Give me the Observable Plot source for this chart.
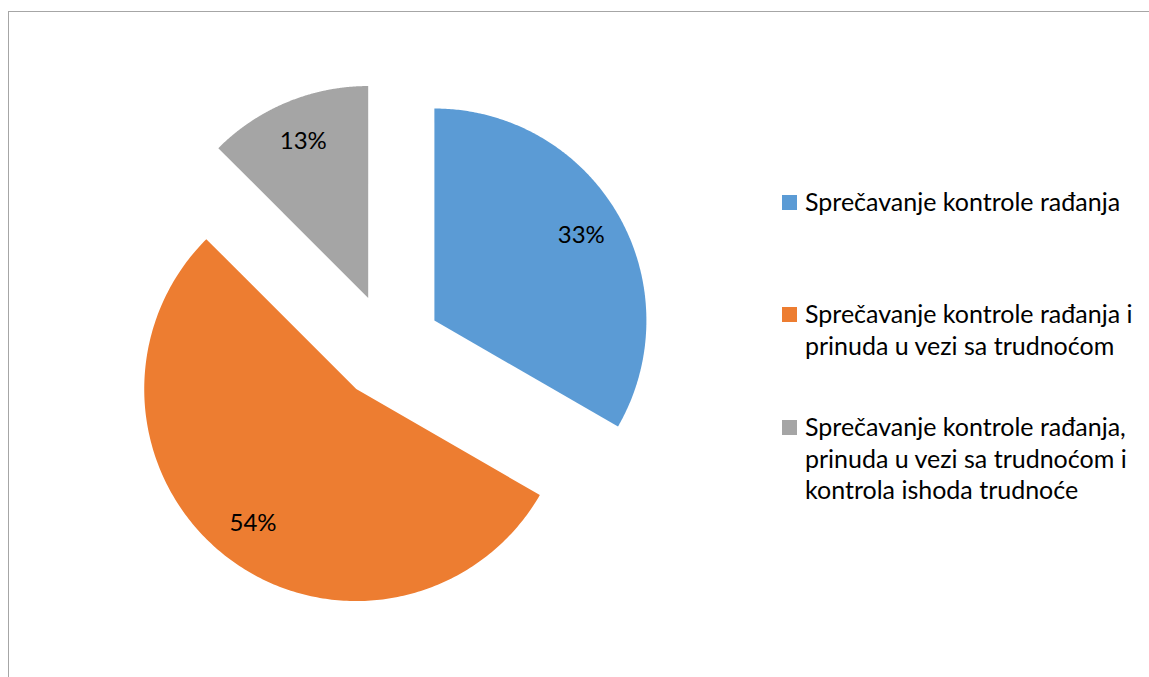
<!DOCTYPE html>
<html>
<head>
<meta charset="utf-8">
<script src="https://cdn.jsdelivr.net/npm/d3@7"></script>
<script src="https://cdn.jsdelivr.net/npm/@observablehq/plot@0.6"></script>
<style>
  html, body { margin: 0; padding: 0; background: #fff; }
  #wrap { position: relative; width: 1149px; height: 677px; overflow: hidden; font-family: "Lato", "Open Sans", sans-serif; }
  #border { position: absolute; left: 8px; top: 11px; width: 1200px; height: 700px; border-left: 1.5px solid #a6a6a6; border-top: 1.5px solid #a6a6a6; box-sizing: border-box; }
  #chart { position: absolute; left: 0; top: 0; }
  #legend { position: absolute; left: 782px; top: 0; width: 367px; }
  .item { position: absolute; left: 0; display: flex; align-items: flex-start; }
  .sw { width: 15px; height: 15px; margin-right: 8px; flex: none; }
  .lbl { font-size: 25px; line-height: 31.5px; color: #000; white-space: nowrap; }
</style>
</head>
<body>
<div id="wrap">
  <div id="border"></div>
  <div id="chart"></div>
  <div id="legend"></div>
</div>
<script>
// ---- data ----
const categories = [
  "Sprečavanje kontrole rađanja",
  "Sprečavanje kontrole rađanja i prinuda u vezi sa trudnoćom",
  "Sprečavanje kontrole rađanja, prinuda u vezi sa trudnoćom i kontrola ishoda trudnoće"
];
const legendLines = [
  ["Sprečavanje kontrole rađanja"],
  ["Sprečavanje kontrole rađanja i", "prinuda u vezi sa trudnoćom"],
  ["Sprečavanje kontrole rađanja,", "prinuda u vezi sa trudnoćom i", "kontrola ishoda trudnoće"]
];
const counts = [8, 13, 3];
const colors = ["#5b9bd5", "#ed7d31", "#a5a5a5"];

// ---- layout ----
const W = 1149, H = 677;
const cx = 388, cy = 346.5, R = 212;   // pie centre / radius in px
const explode = 0.25;                    // explosion as fraction of radius
const labelR = 0.80;

const total = d3.sum(counts);
const arcs = d3.pie().sort(null).value(d => d)(counts);

const pts = [];
const labels = [];
arcs.forEach((a, i) => {
  const mid = (a.startAngle + a.endAngle) / 2;
  const ox = explode * Math.sin(mid), oy = -explode * Math.cos(mid);
  const cat = categories[i];
  pts.push({cat, x: ox, y: oy});
  const n = 240;
  for (let k = 0; k <= n; ++k) {
    const t = a.startAngle + (a.endAngle - a.startAngle) * k / n;
    pts.push({cat, x: ox + Math.sin(t), y: oy - Math.cos(t)});
  }
  pts.push({cat, x: ox, y: oy});
  labels.push({
    cat,
    x: ox + labelR * Math.sin(mid),
    y: oy - labelR * Math.cos(mid),
    text: Math.round(a.value / total * 100) + "%"
  });
});

const plot = Plot.plot({
  width: W, height: H,
  margin: 0,
  x: {domain: [-cx / R, (W - cx) / R], range: [0, W], axis: null},
  y: {domain: [-cy / R, (H - cy) / R], range: [0, H], axis: null},
  color: {domain: categories, range: colors},
  style: {background: "transparent", fontFamily: "Lato, 'Open Sans', sans-serif"},
  marks: [
    Plot.line(pts, {x: "x", y: "y", z: "cat", fill: "cat", stroke: "none", curve: "linear"}),
    Plot.text(labels, {x: "x", y: "y", text: "text", fontSize: 24, fill: "#000"})
  ]
});
document.getElementById("chart").appendChild(plot);

// legend
const legendTops = [186, 298, 411];
const legend = document.getElementById("legend");
categories.forEach((c, i) => {
  const item = document.createElement("div");
  item.className = "item";
  item.style.top = legendTops[i] + "px";
  const sw = document.createElement("div");
  sw.className = "sw";
  sw.style.background = colors[i];
  sw.style.marginTop = "9px";
  const lbl = document.createElement("div");
  lbl.className = "lbl";
  lbl.innerHTML = legendLines[i].join("<br>");
  item.appendChild(sw);
  item.appendChild(lbl);
  legend.appendChild(item);
});
</script>
</body>
</html>
